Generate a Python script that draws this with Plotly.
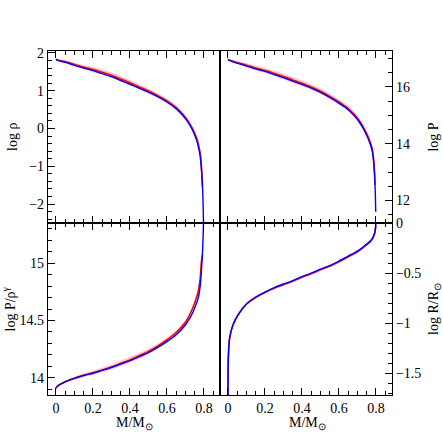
"""Stellar structure comparison: log rho, log P, log P/rho^gamma, log R against M/Msun (Plotly)."""
import plotly.graph_objects as go
from plotly.subplots import make_subplots

# mass coordinate for the rho / P / entropy panels
m_grid = [0.0, 0.01, 0.05, 0.1, 0.15, 0.2, 0.25, 0.3, 0.35, 0.4, 0.45, 0.5, 0.55,
          0.6, 0.65, 0.7, 0.72, 0.74, 0.76, 0.77, 0.78, 0.787, 0.792, 0.795, 0.797, 0.799]

# blue = reference model, red = comparison model, spread = half-width of pink band
rho_blue = [1.83, 1.80, 1.75, 1.67, 1.60, 1.53, 1.45, 1.37, 1.27, 1.17, 1.07, 0.96, 0.84,
            0.70, 0.52, 0.26, 0.12, -0.06, -0.30, -0.48, -0.74, -1.12, -1.50, -1.88, -2.30, -2.70]
rho_red = [1.83, 1.81, 1.77, 1.69, 1.62, 1.56, 1.49, 1.41, 1.31, 1.21, 1.10, 0.99, 0.87,
           0.73, 0.55, 0.29, 0.15, -0.02, -0.25, -0.42, -0.66, -1.02, -1.55, None, None, None]
rho_spread = [0.0, 0.01, 0.03, 0.05, 0.06, 0.07, 0.07, 0.07, 0.07, 0.07, 0.07, 0.07, 0.06,
              0.06, 0.06, 0.06, 0.06, 0.07, 0.08, 0.09, 0.09, 0.09, 0.06, None, None, None]

p_blue = [16.97, 16.93, 16.84, 16.74, 16.64, 16.55, 16.44, 16.33, 16.21, 16.09, 15.96, 15.81, 15.63,
          15.43, 15.20, 14.86, 14.66, 14.43, 14.15, 13.97, 13.75, 13.40, 13.00, 12.60, 12.20, 11.60]
p_red = [16.97, 16.94, 16.86, 16.77, 16.67, 16.58, 16.48, 16.37, 16.25, 16.13, 16.00, 15.85, 15.67,
         15.47, 15.24, 14.90, 14.71, 14.48, 14.21, 14.03, 13.82, 13.48, 13.05, 12.55, None, None]
p_spread = [0.0, 0.01, 0.05, 0.07, 0.08, 0.09, 0.09, 0.10, 0.10, 0.10, 0.10, 0.10, 0.09,
            0.09, 0.09, 0.09, 0.09, 0.10, 0.11, 0.12, 0.12, 0.12, 0.09, 0.05, None, None]

s_blue = [13.91, 13.93, 13.965, 13.995, 14.02, 14.04, 14.065, 14.09, 14.12, 14.15, 14.185, 14.22, 14.265,
          14.315, 14.375, 14.46, 14.51, 14.57, 14.65, 14.70, 14.80, 14.95, 15.08, 15.20, 15.30, 15.45]
s_red = [13.91, 13.93, 13.966, 13.997, 14.022, 14.043, 14.068, 14.094, 14.125, 14.156, 14.192, 14.23, 14.276,
         14.33, 14.395, 14.485, 14.54, 14.61, 14.70, 14.76, 14.87, 15.02, 15.07, None, None, None]
s_spread = [0.0, 0.005, 0.01, 0.013, 0.016, 0.018, 0.02, 0.022, 0.024, 0.025, 0.025, 0.024, 0.022,
            0.02, 0.017, 0.015, 0.013, 0.012, 0.012, 0.012, 0.012, 0.012, 0.01, None, None, None]

# radius panel has its own mass grid (steep near the centre)
m_r = [0.0003, 0.001, 0.003, 0.009, 0.027, 0.054, 0.1, 0.15, 0.2, 0.25, 0.3, 0.35, 0.4, 0.45,
       0.5, 0.55, 0.6, 0.65, 0.7, 0.74, 0.77, 0.785, 0.793, 0.797, 0.7995, 0.8]
r_blue = [-1.75, -1.45, -1.30, -1.15, -1.02, -0.92, -0.81, -0.74, -0.69, -0.645, -0.61, -0.575, -0.535, -0.50,
          -0.46, -0.425, -0.38, -0.33, -0.28, -0.225, -0.18, -0.14, -0.10, -0.06, -0.02, 0.02]
r_red = [-1.75, -1.45, -1.30, -1.15, -1.02, -0.92, -0.81, -0.745, -0.695, -0.652, -0.618, -0.583, -0.543, -0.508,
         -0.468, -0.432, -0.388, -0.338, -0.287, -0.232, -0.186, -0.145, -0.105, -0.065, -0.03, None]

BLUE = "#0000ff"
RED = "#ff0000"
BAND = "rgba(255,60,60,0.30)"
FONT = "Liberation Serif"


def add_model(fig, m, blue, red, spread, row, col):
    if spread is not None:
        hi = [None if s is None else r + s for r, s in zip(red, spread)]
        lo = [None if s is None else r - s for r, s in zip(red, spread)]
        fig.add_trace(go.Scatter(x=m, y=hi, mode="lines", line=dict(width=0, shape="spline"),
                                 hoverinfo="skip"), row=row, col=col)
        fig.add_trace(go.Scatter(x=m, y=lo, mode="lines", line=dict(width=0, shape="spline"),
                                 fill="tonexty", fillcolor=BAND, hoverinfo="skip"),
                      row=row, col=col)
    fig.add_trace(go.Scatter(x=m, y=red, mode="lines",
                             line=dict(color=RED, width=1.6, shape="spline", smoothing=0.8)),
                  row=row, col=col)
    fig.add_trace(go.Scatter(x=m, y=blue, mode="lines",
                             line=dict(color=BLUE, width=1.4, shape="spline", smoothing=0.8)),
                  row=row, col=col)


fig = make_subplots(rows=2, cols=2, horizontal_spacing=0, vertical_spacing=0)

add_model(fig, m_grid, rho_blue, rho_red, rho_spread, 1, 1)
add_model(fig, m_grid, p_blue, p_red, p_spread, 1, 2)
add_model(fig, m_grid, s_blue, s_red, s_spread, 2, 1)
add_model(fig, m_r, r_blue, r_red, None, 2, 2)

axis_common = dict(showline=True, linecolor="black", linewidth=1.2, ticks="inside",
                   ticklen=7, tickwidth=1, tickcolor="black", showgrid=False,
                   zeroline=False, tickfont=dict(family=FONT, size=14, color="black"))

fig.update_xaxes(range=[-0.043, 0.887], dtick=0.2, tick0=0, mirror="allticks",
                 minor=dict(dtick=0.05, tick0=0, ticks="inside", ticklen=4,
                            tickcolor="black", tickwidth=1),
                 **axis_common)
fig.update_xaxes(showticklabels=False, row=1)
fig.update_yaxes(mirror=True, **axis_common)

fig.update_yaxes(range=[-2.5, 2.05], dtick=1, tick0=0,
                 minor=dict(dtick=0.2, tick0=0, ticks="inside", ticklen=4, tickcolor="black"),
                 row=1, col=1)
fig.update_yaxes(range=[11.2, 17.27], dtick=2, tick0=0, side="right",
                 minor=dict(dtick=0.5, tick0=0, ticks="inside", ticklen=4, tickcolor="black"),
                 row=1, col=2)
fig.update_yaxes(range=[13.85, 15.35], dtick=0.5, tick0=0,
                 minor=dict(dtick=0.1, tick0=0, ticks="inside", ticklen=4, tickcolor="black"),
                 row=2, col=1)
fig.update_yaxes(range=[-1.72, 0.0005], dtick=0.5, tick0=0, side="right",
                 minor=dict(dtick=0.1, tick0=0, ticks="inside", ticklen=4, tickcolor="black"),
                 row=2, col=2)

# axis titles placed in paper coordinates (plot area spans 344 px each way)
titles = [
    ("log ρ", -0.105, 0.75, -90),
    ("log P/ρ<sup>γ</sup>", -0.112, 0.25, -90),
    ("log P", 1.118, 0.75, -90),
    ("log R/R<sub>⊙</sub>", 1.122, 0.25, -90),
    ("M/M<sub>⊙</sub>", 0.251, -0.083, 0),
    ("M/M<sub>⊙</sub>", 0.755, -0.083, 0),
]
for text, x, y, angle in titles:
    fig.add_annotation(text=text, x=x, y=y, xref="paper", yref="paper",
                       xanchor="center", yanchor="middle",
                       showarrow=False, textangle=angle,
                       font=dict(family=FONT, size=14, color="black"))

fig.update_layout(
    width=443, height=443, showlegend=False,
    plot_bgcolor="white", paper_bgcolor="white",
    margin=dict(l=48, r=51, t=51, b=48),
    font=dict(family=FONT, size=14, color="black"),
)

# drop the default 8 px body margin so the figure fills the window exactly
fig.write_html("out.html", config={"displayModeBar": False},
               post_script="document.body.style.margin = '0';")
